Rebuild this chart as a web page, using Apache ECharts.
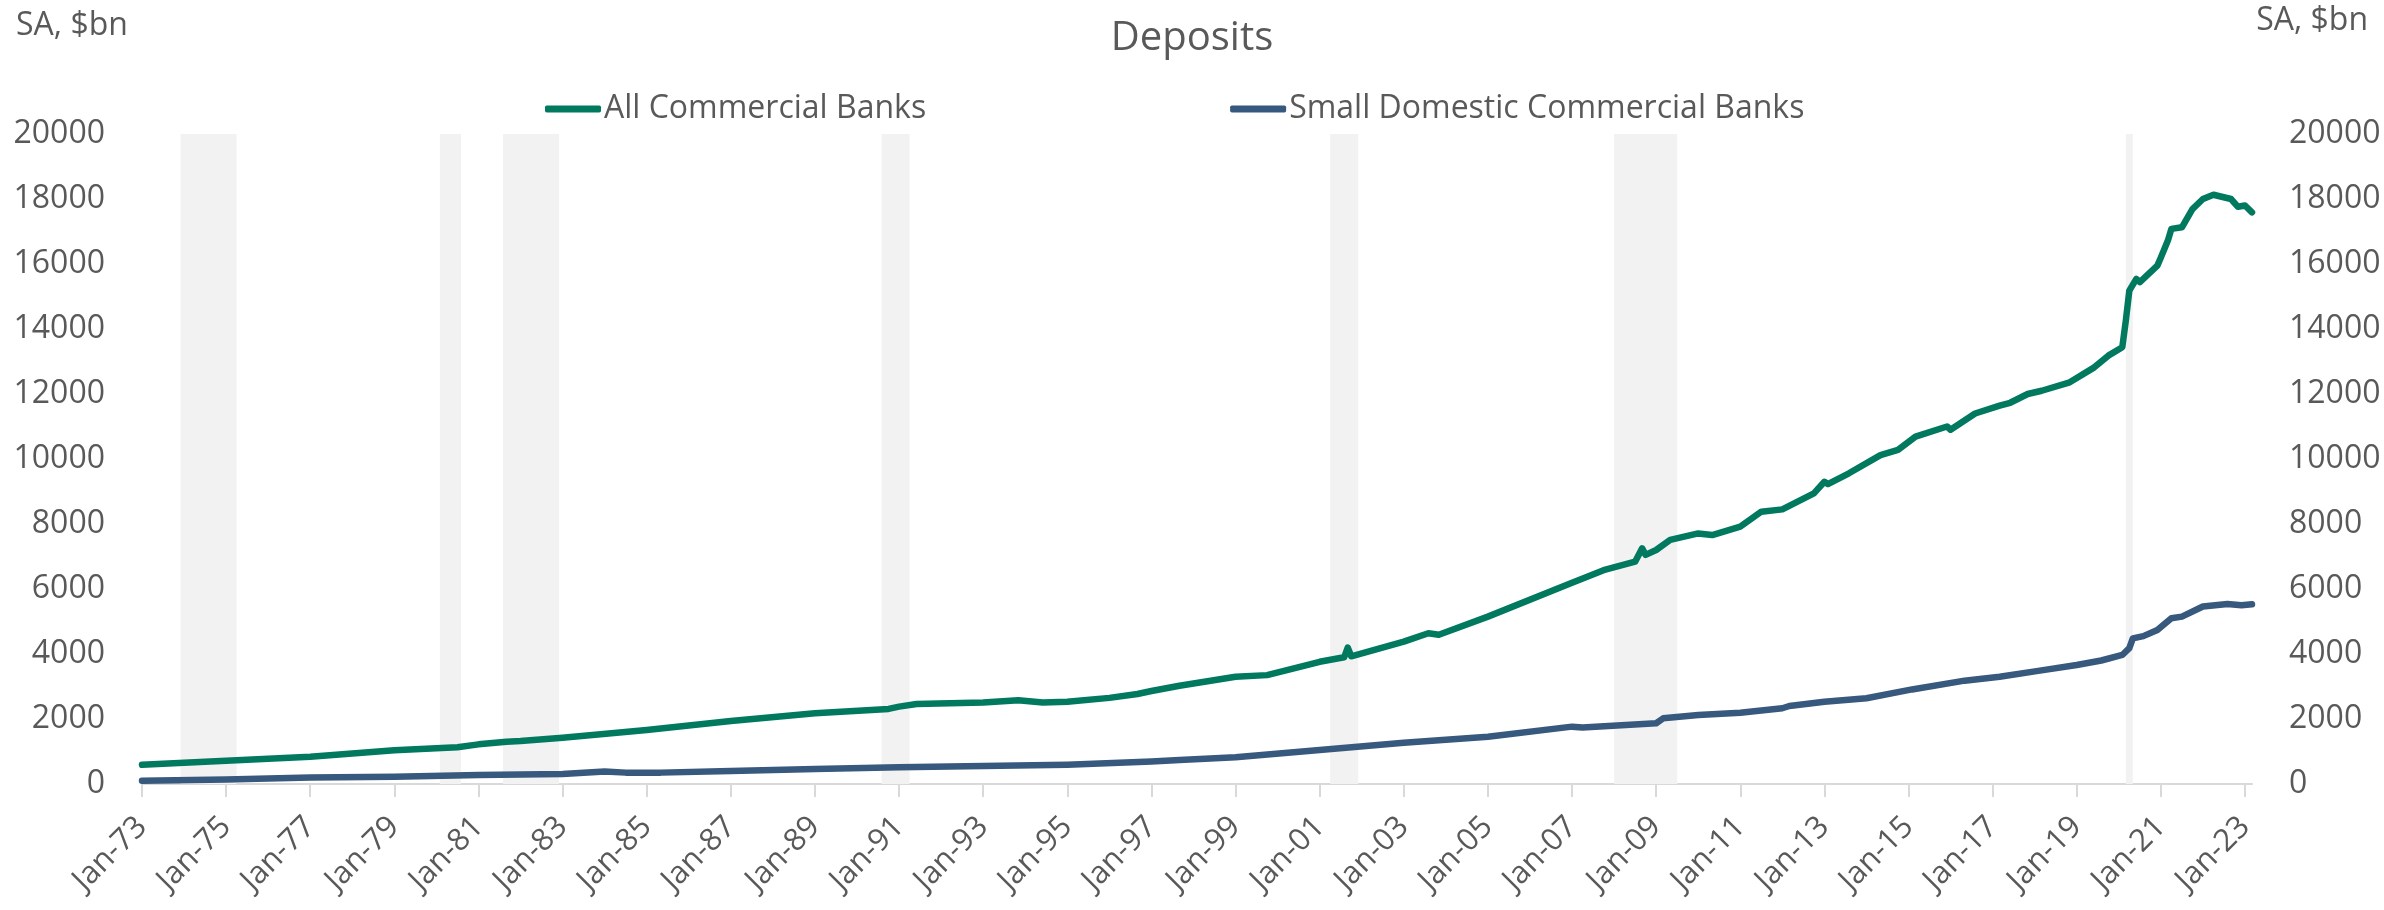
<!DOCTYPE html>
<html>
<head>
<meta charset="utf-8">
<title>Deposits</title>
<script src="https://cdn.jsdelivr.net/npm/echarts@6/dist/echarts.min.js"></script>
<style>
  html, body { margin: 0; padding: 0; background: #ffffff; }
  #chart { width: 2384px; height: 910px; }
</style>
</head>
<body>
<div id="chart"></div>
<script>
// Deposits, seasonally adjusted, $bn (month of observation -> level)
const allBanksDates = [
  '1973-01', '1975-01', '1977-01', '1979-01', '1980-07', '1981-01', '1981-09', '1982-01',
  '1983-01', '1985-01', '1987-01', '1989-01', '1990-10', '1991-01', '1991-06', '1993-01',
  '1993-11', '1994-06', '1995-01', '1996-01', '1996-09', '1997-01', '1997-09', '1999-01',
  '1999-10', '2001-01', '2001-08', '2001-09', '2001-10', '2003-01', '2003-08', '2003-11',
  '2005-01', '2007-01', '2007-10', '2008-07', '2008-09', '2008-10', '2009-01', '2009-05',
  '2010-01', '2010-05', '2011-01', '2011-07', '2012-01', '2012-10', '2013-01', '2013-02',
  '2013-08', '2014-05', '2014-10', '2015-03', '2015-12', '2016-01', '2016-08', '2017-03',
  '2017-06', '2017-11', '2018-03', '2018-11', '2019-06', '2019-10', '2020-02', '2020-03',
  '2020-04', '2020-06', '2020-07', '2020-12', '2021-01', '2021-03', '2021-04', '2021-07',
  '2021-10', '2022-01', '2022-04', '2022-09', '2022-11', '2023-01', '2023-03'
];
const allBanksValues = [
  590, 715, 840, 1040, 1130, 1220, 1300, 1320,
  1425, 1660, 1940, 2175, 2310, 2380, 2460, 2510,
  2580, 2510, 2530, 2650, 2770, 2860, 3025, 3300,
  3350, 3760, 3900, 4200, 3930, 4380, 4640, 4590,
  5150, 6190, 6580, 6840, 7250, 7050, 7200, 7510,
  7710, 7660, 7920, 8380, 8450, 8940, 9300, 9230,
  9560, 10120, 10280, 10690, 11000, 10900, 11400, 11640,
  11730, 12000, 12100, 12360, 12820, 13180, 13440, 14260,
  15180, 15540, 15440, 15950, 16200, 16720, 17080, 17130,
  17690, 18000, 18130, 18000, 17760, 17800, 17590
];

const smallBanksDates = [
  '1973-01', '1975-01', '1977-01', '1979-01', '1981-01', '1983-01', '1984-01', '1984-07',
  '1985-05', '1987-01', '1989-01', '1991-01', '1993-01', '1995-01', '1997-01', '1997-09',
  '1999-01', '2001-01', '2003-01', '2005-01', '2007-01', '2007-04', '2009-01', '2009-03',
  '2010-01', '2011-01', '2012-01', '2012-03', '2013-01', '2014-01', '2015-02', '2016-05',
  '2017-03', '2018-02', '2019-01', '2019-08', '2020-02', '2020-04', '2020-05', '2020-08',
  '2020-12', '2021-04', '2021-07', '2022-01', '2022-08', '2022-12', '2023-03'
];
const smallBanksValues = [
  100, 140, 200, 225, 275, 310, 385, 350,
  350, 400, 460, 515, 555, 595, 690, 735,
  820, 1045, 1270, 1455, 1765, 1740, 1870, 2020,
  2120, 2195, 2330, 2400, 2530, 2640, 2910, 3180,
  3300, 3480, 3660, 3800, 3970, 4180, 4480, 4550,
  4740, 5100, 5150, 5460, 5540, 5500, 5530
];

// Recession periods, first and last month (shaded)
const recessions = [
  ['1973-12', '1975-03'],
  ['1980-02', '1980-07'],
  ['1981-08', '1982-11'],
  ['1990-08', '1991-03'],
  ['2001-04', '2001-11'],
  ['2008-01', '2009-06'],
  ['2020-03', '2020-04']
];

// Years labelled on the time axis (every January, two years apart)
const xTickYears = [
  1973, 1975, 1977, 1979, 1981, 1983, 1985, 1987, 1989, 1991, 1993, 1995, 1997,
  1999, 2001, 2003, 2005, 2007, 2009, 2011, 2013, 2015, 2017, 2019, 2021, 2023
];

const seriesNames = ['All Commercial Banks', 'Small Domestic Commercial Banks'];
const seriesColors = ['#00795F', '#37597D'];
const textColor = '#595959';
const fontFamily = '"Open Sans", "Noto Sans", sans-serif';

// 'YYYY-MM' -> fractional year; endOfMonth moves to the end of that month
function toYear(ym, endOfMonth) {
  const parts = ym.split('-').map(Number);
  return parts[0] + (parts[1] - 1 + (endOfMonth ? 1 : 0)) / 12;
}
function pairs(dates, values) {
  return dates.map((d, i) => [toYear(d), values[i]]);
}

const xMin = toYear('1973-01');
const xMax = toYear('2023-03');

const chart = echarts.init(document.getElementById('chart'), null, { renderer: 'canvas' });

const valueAxisCommon = {
  type: 'value',
  min: 0,
  max: 20000,
  interval: 2000,
  splitLine: { show: false },
  axisLine: { show: false },
  axisTick: { show: false },
  axisLabel: {
    color: textColor,
    fontSize: 32,
    fontFamily: fontFamily,
    margin: 37,
    formatter: (v) => String(v)
  }
};

chart.setOption({
  animation: false,
  backgroundColor: '#ffffff',
  title: [
    {
      text: 'Deposits',
      left: 'center',
      top: 19,
      padding: 0,
      textStyle: { color: textColor, fontSize: 40, fontWeight: 'normal', fontFamily: fontFamily }
    },
    {
      text: 'SA, $bn',
      left: 16,
      top: 10,
      padding: 0,
      textStyle: { color: textColor, fontSize: 32, fontWeight: 'normal', fontFamily: fontFamily }
    },
    {
      text: 'SA, $bn',
      right: 16,
      top: 5,
      padding: 0,
      textStyle: { color: textColor, fontSize: 32, fontWeight: 'normal', fontFamily: fontFamily }
    }
  ],
  legend: {
    data: seriesNames,
    left: 545,
    top: 93,
    padding: 0,
    itemGap: 304,
    itemWidth: 56,
    itemHeight: 7,
    icon: 'roundRect',
    textStyle: { color: textColor, fontSize: 32, fontFamily: fontFamily, padding: [0, 0, 0, -2] }
  },
  grid: { left: 142, right: 132, top: 134, bottom: 126, containLabel: false },
  xAxis: {
    type: 'value',
    min: xMin,
    max: xMax,
    splitLine: { show: false },
    axisLine: { show: true, onZero: false, lineStyle: { color: '#D9D9D9', width: 2 } },
    axisTick: {
      show: true,
      length: 13,
      lineStyle: { color: '#D9D9D9', width: 2 },
      customValues: xTickYears
    },
    axisLabel: {
      color: textColor,
      fontSize: 31,
      fontFamily: fontFamily,
      rotate: 45,
      margin: 38,
      customValues: xTickYears,
      formatter: (v) => 'Jan-' + String(Math.round(v) % 100).padStart(2, '0')
    }
  },
  yAxis: [
    Object.assign({ position: 'left' }, valueAxisCommon),
    Object.assign({ position: 'right' }, valueAxisCommon)
  ],
  series: [
    {
      name: 'recessions',
      type: 'line',
      data: [],
      z: 1,
      silent: true,
      markArea: {
        silent: true,
        itemStyle: { color: '#F2F2F2' },
        data: recessions.map(r => [{ xAxis: toYear(r[0]) }, { xAxis: toYear(r[1], true) }])
      }
    },
    {
      name: seriesNames[0],
      type: 'line',
      z: 3,
      showSymbol: false,
      symbol: 'none',
      data: pairs(allBanksDates, allBanksValues),
      itemStyle: { color: seriesColors[0] },
      lineStyle: { color: seriesColors[0], width: 6.5, cap: 'round', join: 'round' }
    },
    {
      name: seriesNames[1],
      type: 'line',
      z: 3,
      showSymbol: false,
      symbol: 'none',
      data: pairs(smallBanksDates, smallBanksValues),
      itemStyle: { color: seriesColors[1] },
      lineStyle: { color: seriesColors[1], width: 6.5, cap: 'round', join: 'round' }
    }
  ]
});
</script>
</body>
</html>
